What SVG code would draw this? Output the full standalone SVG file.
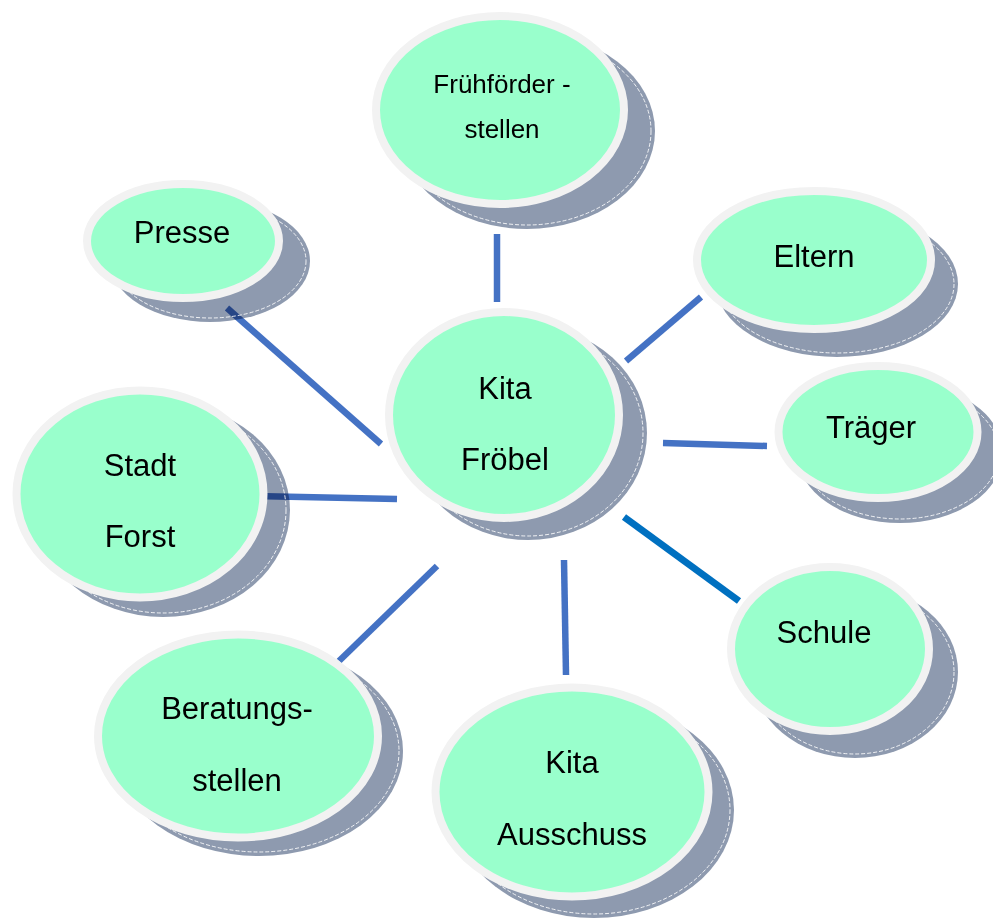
<svg xmlns="http://www.w3.org/2000/svg" width="993" height="922" viewBox="0 0 993 922">
<style>
.shadow{fill:#8E9AAF;mix-blend-mode:multiply}
.dash{fill:none;stroke:#FFFFFF;stroke-width:1;stroke-dasharray:4 2;opacity:0.85}
.main{fill:#99FFCC;stroke:#F2F2F2;stroke-width:8}
.lbl{font-family:"Liberation Sans",Arial,sans-serif;font-size:31px;fill:#000;text-anchor:middle}
.sm{font-size:26px}
.conn{stroke:#4472C4;stroke-width:6.5;fill:none}
.conn2{stroke:#0070C0;stroke-width:7;fill:none}
</style>
<rect width="993" height="922" fill="#FFFFFF"/>
<g id="connectors">
<line class="conn" x1="497" y1="234" x2="497" y2="302"/>
<line class="conn" x1="227" y1="308" x2="381" y2="444"/>
<line class="conn" x1="250" y1="496" x2="397" y2="499"/>
<line class="conn" x1="626" y1="361" x2="701" y2="297"/>
<line class="conn" x1="663" y1="443" x2="767" y2="446"/>
<line class="conn2" x1="624" y1="517" x2="739" y2="601"/>
<line class="conn" x1="437" y1="566" x2="339" y2="661"/>
<line class="conn" x1="564" y1="560" x2="566" y2="675"/>
</g>
<g id="node-fruehfoerder">
<ellipse class="shadow" cx="527" cy="131" rx="128" ry="98"/>
<ellipse class="dash" cx="527" cy="131" rx="124" ry="94"/>
<ellipse class="main" cx="500" cy="110" rx="124" ry="94"/>
<text class="lbl sm" x="502" y="93">Frühförder -</text>
<text class="lbl sm" x="502" y="138">stellen</text>
</g>
<g id="node-presse">
<ellipse class="shadow" cx="210" cy="261" rx="100" ry="61"/>
<ellipse class="dash" cx="210" cy="261" rx="96" ry="57"/>
<ellipse class="main" cx="183" cy="241" rx="96" ry="57"/>
<text class="lbl" x="182" y="243">Presse</text>
</g>
<g id="node-eltern">
<ellipse class="shadow" cx="837" cy="284" rx="121" ry="73"/>
<ellipse class="dash" cx="837" cy="284" rx="117" ry="69"/>
<ellipse class="main" cx="814" cy="260" rx="117" ry="69"/>
<text class="lbl" x="814" y="267">Eltern</text>
</g>
<g id="node-kita-froebel">
<ellipse class="shadow" cx="528" cy="433" rx="119" ry="107"/>
<ellipse class="dash" cx="528" cy="433" rx="115" ry="103"/>
<ellipse class="main" cx="504" cy="415" rx="115" ry="103"/>
<text class="lbl" x="505" y="399">Kita</text>
<text class="lbl" x="505" y="470">Fröbel</text>
</g>
<g id="node-traeger">
<ellipse class="shadow" cx="900" cy="453" rx="103" ry="70"/>
<ellipse class="dash" cx="900" cy="453" rx="99" ry="66"/>
<ellipse class="main" cx="878" cy="432" rx="99.5" ry="66"/>
<text class="lbl" x="871" y="438">Träger</text>
</g>
<g id="node-stadt-forst">
<ellipse class="shadow" cx="163" cy="510" rx="127" ry="107"/>
<ellipse class="dash" cx="163" cy="510" rx="123" ry="103"/>
<ellipse class="main" cx="140" cy="494" rx="123.5" ry="103.5"/>
<text class="lbl" x="140" y="476">Stadt</text>
<text class="lbl" x="140" y="547">Forst</text>
</g>
<g id="node-schule">
<ellipse class="shadow" cx="855" cy="672" rx="103" ry="86"/>
<ellipse class="dash" cx="855" cy="672" rx="99" ry="82"/>
<ellipse class="main" cx="830" cy="649" rx="99" ry="82"/>
<text class="lbl" x="824" y="643">Schule</text>
</g>
<g id="node-beratungsstellen">
<ellipse class="shadow" cx="259" cy="751" rx="144" ry="105"/>
<ellipse class="dash" cx="259" cy="751" rx="140" ry="101"/>
<ellipse class="main" cx="238" cy="736" rx="140" ry="101.5"/>
<text class="lbl" x="237" y="719">Beratungs-</text>
<text class="lbl" x="237" y="791">stellen</text>
</g>
<g id="node-kita-ausschuss">
<ellipse class="shadow" cx="594" cy="810" rx="140" ry="108"/>
<ellipse class="dash" cx="594" cy="810" rx="136" ry="104"/>
<ellipse class="main" cx="572" cy="792" rx="136.5" ry="104.5"/>
<text class="lbl" x="572" y="773">Kita</text>
<text class="lbl" x="572" y="845">Ausschuss</text>
</g>
</svg>
